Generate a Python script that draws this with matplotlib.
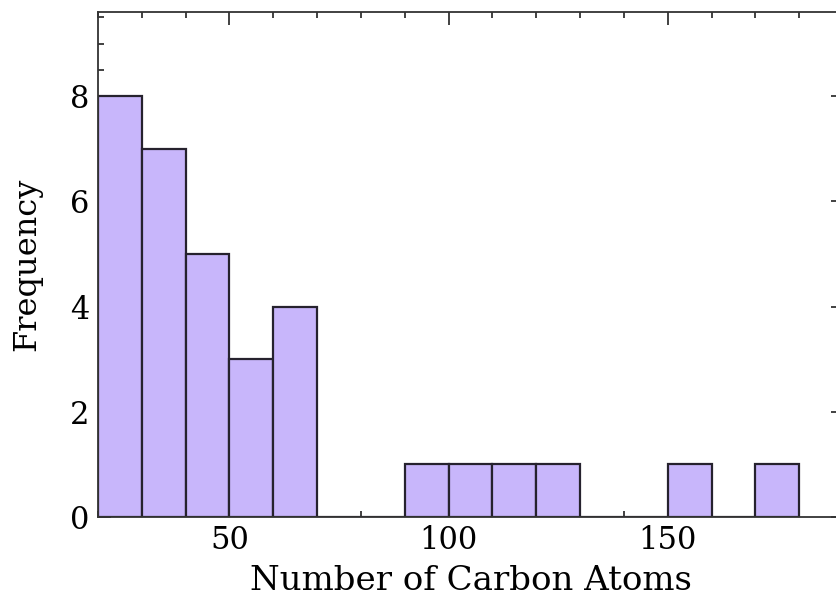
import matplotlib
matplotlib.use("Agg")
import matplotlib.pyplot as plt
from matplotlib.ticker import MultipleLocator

bin_left = [20, 30, 40, 50, 60, 70, 80, 90, 100, 110, 120, 130, 140, 150, 160, 170]
counts = [8, 7, 5, 3, 4, 0, 0, 1, 1, 1, 1, 0, 0, 1, 0, 1]
bin_width = 10
x_ticks = [50, 100, 150]
y_ticks = [0, 2, 4, 6, 8]

plt.rcParams['font.family'] = ['DejaVu Serif']

fig = plt.figure(figsize=(8.36, 6.06), dpi=100)
ax = fig.add_axes([98/836, 89/606, 745/836, 505/606])

ax.bar(bin_left, counts, width=bin_width, align='edge',
       facecolor='#C8B6FB', edgecolor='#26222e', linewidth=1.6, zorder=2)

ax.set_xlim(20, 190)
ax.set_ylim(0, 9.6)
ax.set_xticks(x_ticks)
ax.set_yticks(y_ticks)
ax.xaxis.set_minor_locator(MultipleLocator(10))
ax.yaxis.set_minor_locator(MultipleLocator(0.5))
ax.tick_params(which='both', direction='in', top=True, right=True,
               color='#333333', width=1.3, labelsize=22, pad=6)
ax.tick_params(which='major', length=9)
ax.tick_params(which='minor', length=4)
for s in ax.spines.values():
    s.set_linewidth(1.3)
    s.set_color('#333333')

ax.set_xlabel('Number of Carbon Atoms', fontsize=24.5, labelpad=6)
ax.set_ylabel('Frequency', fontsize=23, labelpad=20)

fig.savefig('out.png', dpi=100)
